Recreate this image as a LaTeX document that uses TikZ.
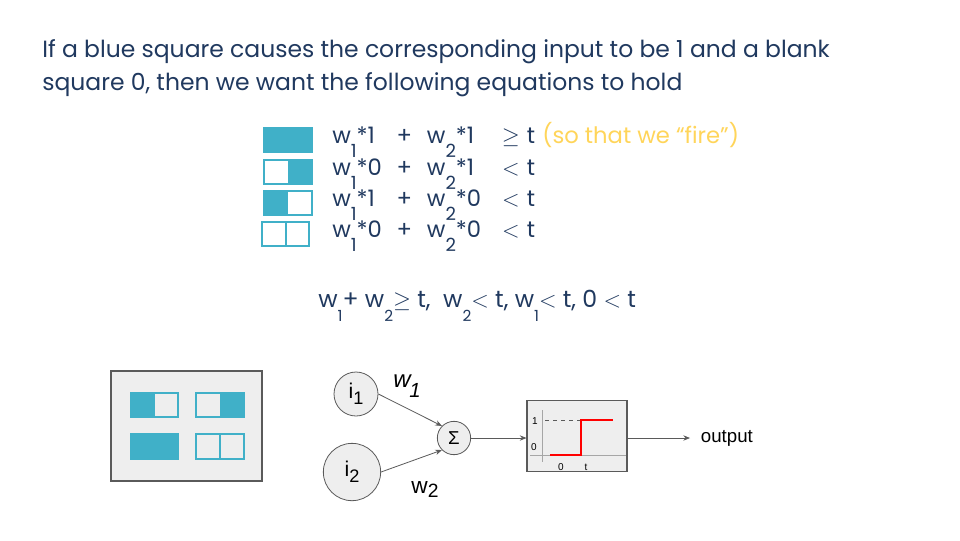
\documentclass[tikz,border=0pt]{standalone}
\usepackage{fontspec,graphicx}
\setmainfont{Poppins}
\newfontfamily\arialf{Liberation Sans}
\usetikzlibrary{arrows.meta,positioning}
\definecolor{navy}{HTML}{20395F}
\definecolor{tl}{HTML}{40B0C8}
\definecolor{gold}{HTML}{FFD55A}
\definecolor{bgr}{HTML}{EEEEEE}
\definecolor{ln}{HTML}{5A5A5A}
\newcommand{\sub}[2][0.8]{\raisebox{-0.62em}{\scalebox{#1}{#2}}}
\newcommand{\lsub}[2][4.5pt]{\raisebox{-#1}{\scalebox{0.85}{#2}}}
\newcommand{\eqn}[3]{\makebox[54pt][l]{w\sub{1}*#1}\makebox[0pt]{+}\makebox[17pt]{}\makebox[63pt][l]{w\sub{2}*#2}\makebox[0pt]{#3}\makebox[15pt]{}\makebox[0pt]{t}}

\begin{document}
\begin{tikzpicture}[x=0.75pt,y=-0.75pt,
    txt/.style={anchor=base west,inner sep=0pt,text=navy,font=\fontsize{17.6}{22}\selectfont},
    eq/.style={anchor=base west,inner sep=0pt,text=navy,font=\fontsize{17}{20}\selectfont},
    sq/.style={draw=tl,line width=1.1pt},
    neu/.style={circle,draw=ln,fill=bgr,line width=0.6pt,inner sep=0pt,font=\arialf\fontsize{16}{16}\selectfont},
    lbl/.style={inner sep=0pt,font=\arialf\fontsize{16}{16}\selectfont},
    tiny/.style={inner sep=0pt,font=\arialf\fontsize{7.5}{8}\selectfont},
    arr/.style={-{Stealth[length=5pt,width=4pt]},draw=ln,line width=0.6pt},
]
\useasboundingbox[fill=white] (0,0) rectangle (960,540);

% Heading
\node[txt] (t1) at (42,57) {If a blue square causes the corresponding input to be 1 and a blank};
\node[txt] (t2) at (42,90) {square 0, then we want the following equations to hold};

% Input patterns
\fill[tl] (264,128) rectangle (312,152);
\draw[sq] (264,128) rectangle (312,152);
\fill[tl] (288,160) rectangle (312,184);
\draw[sq] (264,160) rectangle (312,184);
\fill[tl] (264,191) rectangle (288,215);
\draw[sq] (264,191) rectangle (312,215);
\draw[sq] (262,222) rectangle (309,246) (286,222) -- (286,246);

% Equations
\node[eq] (e1) at (332,143) {\eqn{1}{1}{$\geq$}};
\node[eq,text=gold] (fire) at (542,143) {(so that we “fire”)};
\node[eq] (e2) at (332,175) {\eqn{0}{1}{$<$}};
\node[eq] (e3) at (332,206) {\eqn{1}{0}{$<$}};
\node[eq] (e4) at (332,237) {\eqn{0}{0}{$<$}};

% Summary
\node[eq,font=\fontsize{17.7}{20}\selectfont] (sum) at (318,307)
  {w\sub[0.65]{1}+ w\sub[0.65]{2}$\geq$ t,\ \ w\sub[0.65]{2}$<$ t, w\sub[0.65]{1}$<$ t, 0 $<$ t};

% Pattern panel
\draw[ln,fill=bgr,line width=1pt] (111,371) rectangle (262,481);
\fill[tl] (131,393) rectangle (155,417);
\draw[sq] (131,393) rectangle (178,417);
\fill[tl] (220,393) rectangle (244,417);
\draw[sq] (196,393) rectangle (244,417);
\fill[tl] (131,434) rectangle (178,459);
\draw[sq] (131,434) rectangle (178,459);
\draw[sq] (196,434) rectangle (244,459) (220,434) -- (220,459);

% Neuron
\node[neu,minimum size=33pt] (i1) at (356,394) {i\lsub{1}};
\node[neu,minimum size=43pt] (i2) at (352,472) {i\lsub{2}};
\node[neu,minimum size=25pt,font=\arialf\fontsize{14}{14}\selectfont] (sig) at (454,438) {Σ};
\node[lbl,font=\arialf\itshape\fontsize{18}{18}\selectfont] (w1) at (407,386) {w\hspace{-1pt}\lsub[7pt]{1}};
\node[lbl,font=\arialf\fontsize{17}{17}\selectfont] (w2) at (425,490) {w\lsub[3pt]{2}};
\draw[arr] (i1.east) -- (sig.north west);
\draw[arr] (i2.east) -- (sig.south west);

% Step function
\node[draw=ln,fill=bgr,line width=0.8pt,minimum width=75pt,minimum height=53pt] (bx) at (577,436) {};
\draw[arr] (sig.east) -- (sig.east -| bx.west);
\draw[gray!70,line width=0.5pt] (542,410) -- (542,462) (530,455) -- (626,455);
\draw[ln,dashed,line width=0.5pt] (545,420) -- (580,420);
\draw[red,line width=1.6pt] (550,455) -- (581,455) -- (581,420) -- (613,420);
\node[tiny] (y1) at (535,421) {1};
\node[tiny] (y0) at (534,447) {0};
\node[tiny] (x0) at (561,467) {0};
\node[tiny] (xt) at (586,467) {t};
\node[lbl,anchor=west,inner sep=8pt,font=\arialf\fontsize{14}{14}\selectfont] (out) at (690,438) {output};
\draw[arr] (bx.east |- sig) -- (out.west);
\end{tikzpicture}
\end{document}
